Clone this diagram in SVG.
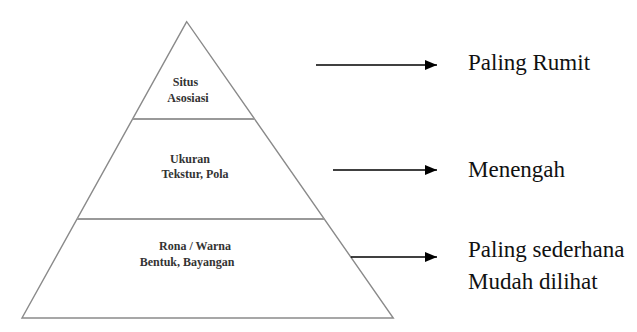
<svg xmlns="http://www.w3.org/2000/svg" width="637" height="332" viewBox="0 0 637 332">
<style>
.edge{fill:none;stroke:#8a8a8a;stroke-width:1.4}
.div{stroke:#999;stroke-width:2.2}
.arr{stroke:#000;stroke-width:1.4;fill:none}
.in{font-weight:bold;font-size:12px;fill:#333;text-anchor:middle}
.lbl{font-size:23px;fill:#111}
</style>
<defs>
<marker id="ah" markerUnits="userSpaceOnUse" markerWidth="14" markerHeight="12" refX="12" refY="5" orient="auto">
<path d="M0,0 L12,5 L0,10 Z" fill="#000"/>
</marker>
</defs>
<rect width="637" height="332" fill="#fff"/>
<g id="pyramid">
<polygon class="edge" points="186.7,21.7 22,318 393.3,318"/>
<line class="div" x1="132.6" y1="119" x2="254.5" y2="119"/>
<line class="div" x1="77" y1="219" x2="324.3" y2="219"/>
</g>
<g font-family="Liberation Serif, Times New Roman, Times, serif">
<g id="level-top">
<text class="in" x="185.5" y="85.5">Situs</text>
<text class="in" x="188" y="102">Asosiasi</text>
</g>
<g id="level-middle">
<text class="in" x="190" y="163">Ukuran</text>
<text class="in" x="195" y="177.5">Tekstur, Pola</text>
</g>
<g id="level-bottom">
<text class="in" x="195" y="250">Rona / Warna</text>
<text class="in" x="187" y="265.5">Bentuk, Bayangan</text>
</g>
<g id="label-rumit">
<text class="lbl" x="468" y="69.5">Paling Rumit</text>
</g>
<g id="label-menengah">
<text class="lbl" x="468" y="176.5">Menengah</text>
</g>
<g id="label-sederhana">
<text class="lbl" x="468" y="256.5">Paling sederhana</text>
<text class="lbl" x="468" y="288.5">Mudah dilihat</text>
</g>
</g>
<g id="connectors">
<line class="arr" x1="316" y1="65" x2="437" y2="65" marker-end="url(#ah)"/>
<line class="arr" x1="333" y1="170" x2="437" y2="170" marker-end="url(#ah)"/>
<line class="arr" x1="350.8" y1="257" x2="437" y2="257" marker-end="url(#ah)"/>
</g>
</svg>
